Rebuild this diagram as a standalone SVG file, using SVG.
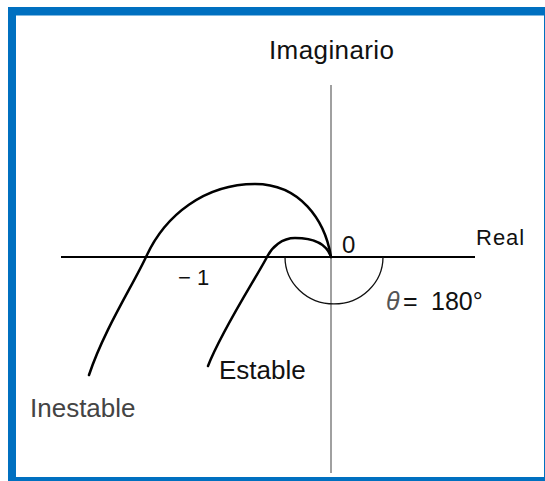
<svg xmlns="http://www.w3.org/2000/svg" width="545" height="481" viewBox="0 0 545 481">
<style>
.lbl{font-family:"Liberation Sans",Arial,sans-serif;fill:#111}
.curve{fill:none;stroke:#000;stroke-width:2.5;stroke-linecap:round}
</style>
<rect x="0" y="0" width="545" height="481" fill="#fff"/>
<rect x="8" y="7" width="537" height="474" fill="#0070c0"/>
<rect x="16" y="15.5" width="528" height="461.5" fill="#fff"/>
<g id="axes">
<line x1="331" y1="85" x2="331" y2="473" stroke="#808080" stroke-width="1.5"/>
<line x1="61" y1="257" x2="475" y2="257" stroke="#000" stroke-width="2"/>
</g>
<g id="angle">
<path d="M285,257 A49,47 0 0 0 383,257" fill="none" stroke="#111" stroke-width="1.3"/>
</g>
<g id="curves">
<path class="curve" d="M331,257 C325,220 300,184 255,184 C205,184 165,215 146,257 C133,285 104,330 89,375"/>
<path class="curve" d="M331,257 C327,245 315,238 295,238 C282,238 272,247 267,257 C256,278 222,330 208,366"/>
</g>
<g id="labels">
<text class="lbl" x="269" y="59" font-size="26" letter-spacing="0.4">Imaginario</text>
<text class="lbl" x="476" y="245" font-size="22" letter-spacing="1">Real</text>
<text class="lbl" x="342" y="253" font-size="24">0</text>
<text class="lbl" x="178" y="285" font-size="22">− 1</text>
<text class="lbl" x="386" y="310" font-size="25"><tspan font-style="italic" fill="#555">θ</tspan><tspan x="403">=</tspan><tspan x="431">180°</tspan></text>
<text class="lbl" x="219" y="379" font-size="26">Estable</text>
<text class="lbl" x="30" y="417" font-size="26" style="fill:#444">Inestable</text>
</g>
</svg>
